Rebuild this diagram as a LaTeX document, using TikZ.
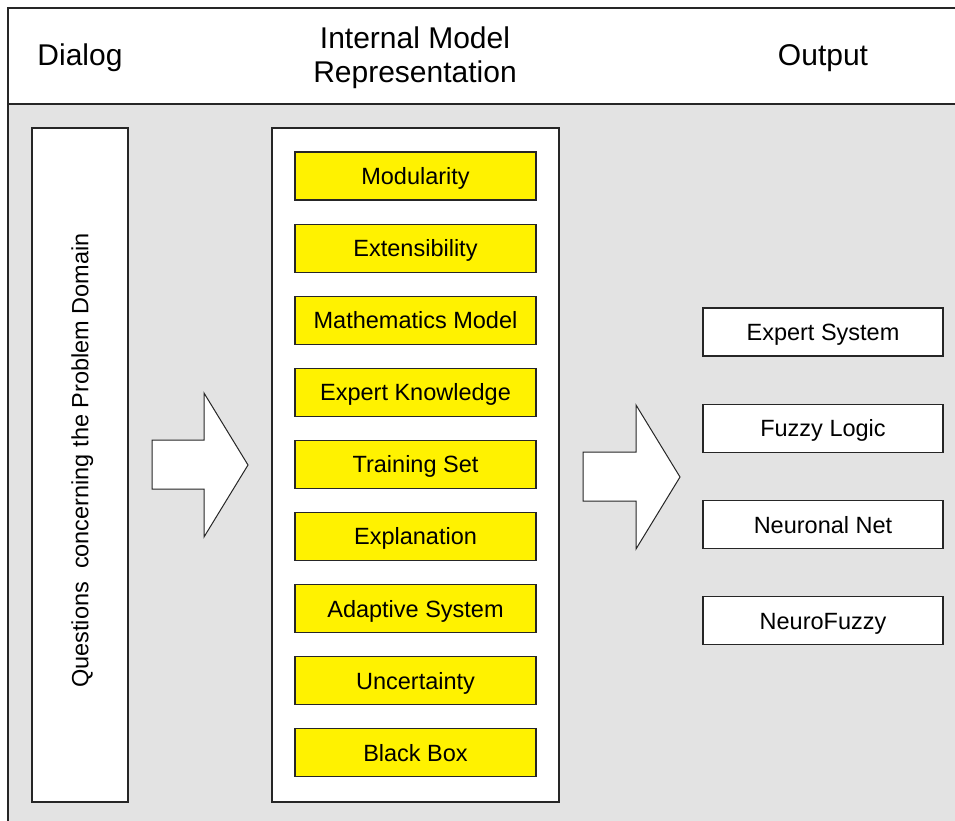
\documentclass[tikz,border=0pt]{standalone}
\usepackage{fontspec}
\setmainfont{Liberation Sans}
\definecolor{panelgray}{HTML}{E3E3E3}
\definecolor{linegray}{HTML}{262626}
\tikzset{
  every node/.style={font=\fontsize{23.5}{27}\selectfont, text=black},
  capcentred/.style={text height=16.8pt, text depth=0pt},
  frame/.style={draw=linegray, line width=1.2pt},
  whitebox/.style={draw=linegray, line width=1.1pt, fill=white, inner sep=0pt},
  featurebox/.style={draw=linegray, line width=1.1pt, fill=yellow, inner sep=0pt,
    minimum width=241pt, minimum height=48pt, capcentred},
  outbox/.style={draw=linegray, line width=1.1pt, fill=white, inner sep=0pt,
    minimum width=240pt, minimum height=48pt, capcentred},
  header/.style={font=\fontsize{30}{34}\selectfont, inner sep=0pt, anchor=base},
  blockarrow/.style={draw=linegray, line width=1pt, fill=white, line join=miter}
}
\begin{document}
\begin{tikzpicture}[x=1pt, y=-1pt]
\useasboundingbox (0,0) rectangle (955,821);
\clip (0,0) rectangle (955,821);

% frame: header band and grey body
\fill[white] (8,8) rectangle (970,104);
\fill[panelgray] (8,104) rectangle (970,840);
\draw[frame] (970,8) -- (8,8) -- (8,840);
\draw[frame] (8,104) -- (970,104);

% column titles (placed on their baselines)
\node[header] (hdialog) at (80,66) {Dialog};
\node[header] (hmodel1) at (415,49) {Internal Model};
\node[header] (hmodel2) at (415,83) {Representation};
\node[header] (houtput) at (823,65.5) {Output};

% dialog column
\node[whitebox, minimum width=96pt, minimum height=674pt] (dialog) at (80,465) {};
\node[rotate=90, inner sep=0pt, capcentred] (question) at (80,460.5) {Questions\ \ concerning the Problem Domain};

% internal model column
\node[whitebox, minimum width=287pt, minimum height=674pt] (model) at (415.5,465) {};
\foreach \name/\txt [count=\i from 0] in {
    mod/Modularity, ext/Extensibility, math/Mathematics Model,
    know/Expert Knowledge, train/Training Set, expl/Explanation,
    adapt/Adaptive System, unc/Uncertainty, black/Black Box} {
  \node[featurebox] (\name) at (415.5,{176+72.1*\i}) {\txt};
}

% output column
\foreach \name/\txt [count=\i from 0] in {
    expert/Expert System, fuzzy/Fuzzy Logic,
    neural/Neuronal Net, neurofuzzy/NeuroFuzzy} {
  \node[outbox] (\name) at (823,{332+96.3*\i}) {\txt};
}

% block arrows between the columns
\draw[blockarrow] (152,440) -- (204,440) -- (204,393) -- (248,465)
  -- (204,537) -- (204,489) -- (152,489) -- cycle;
\draw[blockarrow] (583,452) -- (636,452) -- (636,405) -- (680,477)
  -- (636,549) -- (636,501) -- (583,501) -- cycle;
\end{tikzpicture}
\end{document}
